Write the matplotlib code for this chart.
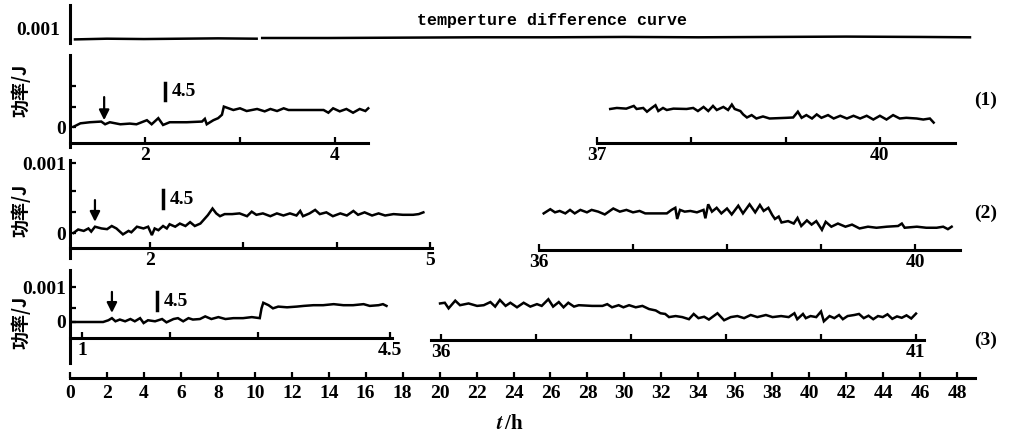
import matplotlib
matplotlib.use("Agg")
import matplotlib.pyplot as plt

# power values are given in units of 1e-4 (so 10 -> 0.001)
p1_left_t = [1.25, 1.32, 1.42, 1.54, 1.58, 1.63, 1.74, 1.84, 1.91, 2.02, 2.07, 2.14, 2.19, 2.26,
             2.44, 2.60, 2.63, 2.65, 2.72, 2.77, 2.81, 2.83, 2.88, 2.93, 3.00, 3.07, 3.18, 3.26,
             3.32, 3.39, 3.46, 3.51, 3.67, 3.88, 3.93, 3.98, 4.05, 4.12, 4.19, 4.26, 4.32, 4.35]
p1_left_p = [0.05, 0.54, 0.7, 0.8, 0.4, 0.7, 0.4, 0.5, 0.4, 1.0, 0.4, 1.3, 0.3, 0.7,
             0.7, 0.8, 1.2, 0.4, 1.0, 1.3, 1.8, 3.0, 2.75, 2.5, 2.75, 2.35, 2.65, 2.3,
             2.65, 2.35, 2.75, 2.5, 2.5, 2.5, 2.1, 2.75, 2.3, 2.65, 2.1, 2.65, 2.35, 2.75]
p1_right_t = [37.14, 37.21, 37.31, 37.39, 37.42, 37.49, 37.53, 37.58, 37.62, 37.65, 37.70, 37.74,
              37.81, 37.95, 38.02, 38.07, 38.13, 38.18, 38.23, 38.27, 38.34, 38.39, 38.43, 38.46,
              38.52, 38.55, 38.59, 38.64, 38.69, 38.76, 38.83, 39.01, 39.08, 39.13, 39.17, 39.22,
              39.28, 39.33, 39.38, 39.45, 39.51, 39.58, 39.65, 39.72, 39.79, 39.86, 39.93, 40.00,
              40.07, 40.14, 40.21, 40.28, 40.39, 40.46, 40.53, 40.57]
p1_right_p = [2.65, 2.8, 2.7, 3.1, 2.65, 2.8, 2.25, 2.8, 3.2, 2.35, 2.8, 2.5,
              2.7, 2.65, 2.8, 2.35, 2.95, 2.35, 3.1, 2.5, 2.95, 2.5, 3.3, 2.65,
              2.35, 1.85, 1.4, 1.75, 1.25, 1.55, 1.25, 1.35, 1.4, 2.25, 1.35, 1.75,
              1.25, 1.85, 1.35, 1.75, 1.25, 1.65, 1.25, 1.65, 1.25, 1.65, 1.1, 1.65,
              1.1, 1.75, 1.25, 1.35, 1.25, 1.1, 1.25, 0.65]

p2_left_t = [1.18, 1.23, 1.29, 1.34, 1.37, 1.41, 1.48, 1.54, 1.59, 1.64, 1.71, 1.77, 1.80,
             1.86, 1.93, 1.98, 2.02, 2.05, 2.09, 2.14, 2.18, 2.21, 2.27, 2.32, 2.38, 2.43,
             2.48, 2.54, 2.59, 2.62, 2.67, 2.71, 2.75, 2.80, 2.88, 2.96, 3.04, 3.09, 3.14,
             3.21, 3.29, 3.36, 3.43, 3.50, 3.57, 3.61, 3.64, 3.71, 3.77, 3.82, 3.89, 3.96,
             4.04, 4.11, 4.18, 4.23, 4.30, 4.38, 4.45, 4.52, 4.61, 4.71, 4.82, 4.88, 4.93]
p2_left_p = [0.0, 0.5, 0.3, 0.65, 0.2, 0.9, 0.65, 0.55, 1.0, 0.65, -0.2, 0.3, 0.1,
             0.9, 0.65, 0.9, -0.3, 0.65, 0.4, 1.0, 0.65, 1.25, 0.9, 1.35, 1.0, 1.55,
             1.0, 1.35, 2.1, 2.55, 3.5, 2.8, 2.4, 2.7, 2.7, 2.8, 2.4, 3.05, 2.6,
             2.8, 2.4, 2.8, 2.5, 2.8, 2.5, 3.15, 2.4, 2.8, 3.3, 2.7, 2.95, 2.4,
             2.8, 2.5, 3.15, 2.6, 2.95, 2.5, 2.8, 2.5, 2.7, 2.6, 2.6, 2.7, 2.95]
p2_right_t = [36.05, 36.12, 36.17, 36.22, 36.28, 36.33, 36.38, 36.44, 36.51, 36.56, 36.63, 36.70,
              36.79, 36.86, 36.93, 37.00, 37.07, 37.13, 37.22, 37.36, 37.41, 37.45, 37.47, 37.50,
              37.55, 37.61, 37.68, 37.75, 37.77, 37.80, 37.84, 37.89, 37.94, 38.00, 38.05, 38.12,
              38.17, 38.24, 38.30, 38.35, 38.39, 38.44, 38.48, 38.51, 38.55, 38.58, 38.65, 38.71,
              38.75, 38.79, 38.85, 38.90, 38.95, 39.01, 39.05, 39.11, 39.18, 39.26, 39.33, 39.41,
              39.50, 39.59, 39.70, 39.82, 39.86, 39.89, 40.02, 40.12, 40.23, 40.30, 40.35, 40.39]
p2_right_p = [2.8, 3.4, 2.95, 3.15, 2.8, 3.3, 2.8, 3.3, 2.95, 3.3, 3.05, 2.65,
              3.5, 3.05, 3.3, 2.95, 3.15, 2.8, 2.8, 2.8, 3.3, 3.6, 2.0, 3.3,
              3.05, 3.15, 2.95, 3.3, 2.1, 4.1, 3.05, 3.6, 2.8, 3.5, 2.65, 3.9,
              2.8, 4.1, 2.95, 4.0, 3.15, 3.6, 2.6, 2.0, 2.35, 1.5, 1.7, 1.35,
              2.15, 1.0, 1.8, 1.2, 1.7, 0.45, 1.6, 0.9, 1.35, 0.9, 1.2, 0.65,
              0.9, 0.75, 0.9, 1.0, 1.35, 0.75, 0.9, 0.75, 0.75, 0.9, 0.55, 0.9]

p3_left_t = [0.90, 1.24, 1.30, 1.34, 1.38, 1.43, 1.49, 1.55, 1.60, 1.66, 1.70, 1.75, 1.83,
             1.91, 1.96, 2.04, 2.09, 2.15, 2.21, 2.26, 2.34, 2.40, 2.47, 2.55, 2.63, 2.72,
             2.83, 2.93, 3.02, 3.04, 3.06, 3.12, 3.17, 3.23, 3.33, 3.44, 3.52, 3.63, 3.74,
             3.86, 3.97, 4.08, 4.20, 4.27, 4.37, 4.42, 4.46]
p3_left_p = [0.0, 0.0, 0.5, 1.1, 0.2, 0.7, 0.2, 0.85, 0.2, 1.1, -0.3, 0.5, 0.2,
             0.85, -0.1, 0.85, 1.1, 0.2, 1.1, 0.7, 0.85, 1.6, 0.85, 1.4, 0.85, 1.1,
             1.1, 1.4, 1.1, 3.9, 5.5, 4.8, 3.9, 4.4, 4.2, 4.4, 4.6, 4.8, 4.8,
             5.1, 4.8, 4.8, 5.1, 4.6, 4.8, 5.1, 4.6]
p3_right_t = [35.99, 36.04, 36.08, 36.15, 36.20, 36.29, 36.38, 36.45, 36.52, 36.57, 36.62, 36.68,
              36.73, 36.80, 36.87, 36.94, 37.01, 37.06, 37.13, 37.18, 37.24, 37.29, 37.34, 37.40,
              37.45, 37.59, 37.70, 37.75, 37.80, 37.87, 37.92, 37.98, 38.05, 38.12, 38.19, 38.26,
              38.31, 38.36, 38.40, 38.47, 38.54, 38.61, 38.66, 38.71, 38.77, 38.82, 38.91, 38.98,
              39.05, 39.12, 39.19, 39.26, 39.33, 39.42, 39.49, 39.58, 39.66, 39.72, 39.75, 39.81,
              39.84, 39.89, 39.95, 40.00, 40.03, 40.09, 40.14, 40.19, 40.23, 40.28, 40.35, 40.40,
              40.45, 40.50, 40.55, 40.60, 40.65, 40.70, 40.75, 40.80, 40.85, 40.90, 40.95, 41.00]
p3_right_p = [5.3, 5.5, 3.9, 6.1, 4.8, 5.3, 4.6, 4.8, 5.7, 4.4, 6.3, 4.6,
              5.5, 4.2, 5.5, 4.4, 5.1, 4.6, 6.5, 4.4, 5.7, 4.2, 5.5, 4.4,
              4.8, 4.6, 4.6, 5.1, 4.2, 4.8, 4.2, 4.8, 4.2, 4.6, 3.7, 3.3,
              2.5, 2.3, 1.4, 1.7, 1.4, 0.8, 2.3, 1.1, 1.5, 0.7, 2.5, 0.5,
              1.4, 1.7, 1.1, 2.0, 1.4, 2.0, 1.4, 1.7, 1.4, 2.5, 0.8, 2.3,
              1.1, 1.7, 1.4, 3.0, 0.2, 1.7, 1.1, 2.0, 0.8, 1.7, 2.0, 2.3,
              1.1, 1.8, 0.8, 1.7, 1.4, 2.2, 0.9, 1.6, 1.2, 1.9, 1.0, 2.4]

# temperature difference trace (drawn in two pieces, gap near 10 h)
temp_t_a = [0.27, 2.0, 4.0, 6.0, 8.0, 10.1]
temp_v_a = [-0.2, -0.1, -0.15, -0.1, -0.05, -0.1]
temp_t_b = [10.4, 14.0, 18.0, 22.0, 26.0, 30.0, 34.0, 38.0, 42.0, 46.0, 48.7]
temp_v_b = [0.0, 0.0, 0.05, 0.1, 0.1, 0.15, 0.1, 0.15, 0.2, 0.15, 0.1]

hours = list(range(0, 49, 2))
panel_names = ['(1)', '(2)', '(3)']
arrow_t = [1.57, 1.41, 1.34]
arrow_p = [(4.4, 1.0), (4.7, 1.6), (8.6, 2.6)]
mark_t = [2.21, 2.14, 1.85]
mark_p = [(4.0, 6.5), (3.6, 6.1), (3.4, 8.6)]

plt.rcParams['font.family'] = ['Liberation Serif', 'DejaVu Serif']
plt.rcParams['font.weight'] = 'bold'
plt.rcParams['font.size'] = 14
plt.rcParams['mathtext.fontset'] = 'stix'

W, H = 1016, 438
fig = plt.figure(figsize=(W / 100, H / 100), dpi=100)
fig.patch.set_facecolor('white')
LW = 1.8


def ftext(x, y, s, **kw):
    fig.text(x / W, 1 - y / H, s, ha='center', va='center', **kw)


def seg_axes(x0, x1, y0, y1, xcal, ycal, left=False, base_px=None):
    # xcal/ycal: (pixel, value, pixels per unit); pixel y grows downwards
    ax = fig.add_axes([x0 / W, 1 - y1 / H, (x1 - x0) / W, (y1 - y0) / H])
    ax.set_xlim(xcal[1] + (x0 - xcal[0]) / xcal[2], xcal[1] + (x1 - xcal[0]) / xcal[2])
    ax.set_ylim(ycal[1] - (y1 - ycal[0]) / ycal[2], ycal[1] - (y0 - ycal[0]) / ycal[2])
    ax.patch.set_alpha(0)
    for s in ax.spines.values():
        s.set_visible(False)
        s.set_linewidth(2.2)
    ax.spines['left'].set_visible(left)
    if base_px is not None:
        ax.spines['bottom'].set_visible(True)
        ax.spines['bottom'].set_position(('data', ycal[1] - (base_px - ycal[0]) / ycal[2]))
    else:
        ax.set_xticks([])
    if not left:
        ax.set_yticks([])
    ax.tick_params(direction='in', length=4, width=1.6, pad=3)
    return ax


def curve(ax, t, p):
    ax.plot(t, p, color='black', lw=LW, clip_on=False, solid_joinstyle='miter')


# top temperature difference axis
ax_top = seg_axes(70, 975, 5, 43, (70, 0, 18.48), (38, 0, 7.0), left=True)
ax_top.set_yticks([])
curve(ax_top, temp_t_a, temp_v_a)
curve(ax_top, temp_t_b, temp_v_b)
ax_top.text(-0.011, 0.32, '0.001', transform=ax_top.transAxes, ha='right', va='center')
ftext(552, 20, 'temperture difference curve', family='Liberation Mono', fontsize=12)

# panel 1
a = seg_axes(70, 368, 55, 147, (145, 2, 95.0), (127, 0, 6.8), left=True, base_px=143)
curve(a, p1_left_t, p1_left_p)
a.set_xticks([2, 3, 4], ['2', '', '4'])
a.set_yticks([0, 3, 6], ['0', '', ''])
ax_p1 = a
b = seg_axes(597, 955, 55, 147, (597, 37, 94.3), (127, 0, 6.8), base_px=143)
curve(b, p1_right_t, p1_right_p)
b.set_xticks([37, 38, 39, 40], ['37', '', '', '40'])

# panel 2
a = seg_axes(70, 432, 160, 258, (150, 2, 93.3), (233, 0, 7.0), left=True, base_px=248)
curve(a, p2_left_t, p2_left_p)
a.set_xticks([2, 3, 4, 5], ['2', '', '', '5'])
a.set_yticks([0, 3, 6, 10], ['0', '', '', '0.001'])
ax_p2 = a
b = seg_axes(539, 960, 160, 258, (539, 36, 94.0), (233, 0, 7.0), base_px=250)
curve(b, p2_right_t, p2_right_p)
b.set_xticks([36, 37, 38, 39, 40], ['36', '', '', '', '40'])

# panel 3
a = seg_axes(70, 392, 270, 363, (82, 1, 88.0), (322, 0, 3.5), left=True, base_px=338)
curve(a, p3_left_t, p3_left_p)
a.set_xticks([1, 2, 3, 4.5], ['1', '', '', '4.5'])
a.set_yticks([0, 4, 10], ['0', '', '0.001'])
ax_p3 = a
b = seg_axes(431, 924, 270, 363, (441, 36, 95.0), (322, 0, 3.5), base_px=340)
curve(b, p3_right_t, p3_right_p)
b.set_xticks(list(range(36, 42)), ['36', '', '', '', '', '41'])

# arrows and 4.5 marks
for ax, t, (p0, p1), mt, (m0, m1) in zip([ax_p1, ax_p2, ax_p3], arrow_t, arrow_p, mark_t, mark_p):
    ax.annotate('', xy=(t, p1), xytext=(t, p0),
                arrowprops=dict(arrowstyle='-|>', color='black', lw=1.6, mutation_scale=15,
                                shrinkA=0, shrinkB=0))
    ax.plot([mt, mt], [m0, m1], color='black', lw=2.5, clip_on=False)
    ax.annotate('4.5', xy=(mt, (m0 + m1) / 2), xytext=(5, 0), textcoords='offset points',
                ha='left', va='center')

# bottom time axis
ax_b = seg_axes(70, 975, 330, 400, (70, 0, 18.48), (378, 0, 10.0), base_px=378)
ax_b.set_xticks(hours, [str(h) for h in hours])
ax_b.tick_params(axis='x', direction='in', length=4, width=1.6, pad=5)
ftext(510, 424, r'$t\,$/h', fontsize=15)

# side labels
for y, name in zip([100, 213, 340], panel_names):
    ftext(986, y, name)
for y in [90, 210, 322]:
    ftext(21, y, '功率/J', rotation=90, fontsize=13,
          family=['Noto Sans CJK SC', 'DejaVu Sans'], fontweight='bold')

fig.savefig('out.png', dpi=100, facecolor='white')
